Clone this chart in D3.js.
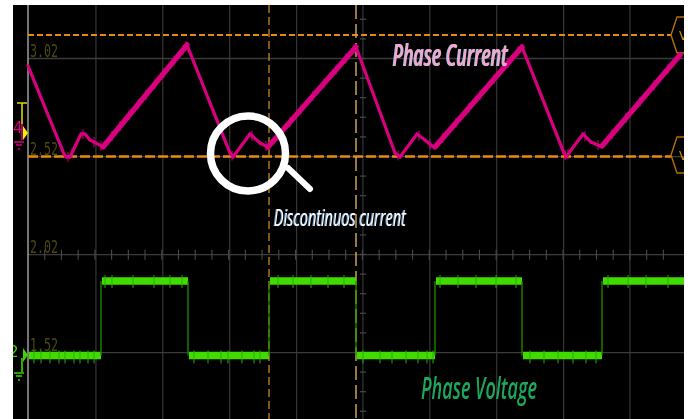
<!DOCTYPE html>
<html><head><meta charset="utf-8">
<script src="https://cdn.jsdelivr.net/npm/d3@7"></script>
<style>html,body{margin:0;padding:0;background:#fff;overflow:hidden}svg{display:block}</style>
</head><body><div id="c"></div>
<script>
// Sample index along the time axis, and readings in volts
const currentTime  = [0,36,38,42,53,57,62,68,75,159,202,205,222,232,240,328,367,372,389,397,404,407,494,536,538,555,563,572,574,652];
const currentValue = [2.982,2.533,2.518,2.518,2.635,2.635,2.604,2.589,2.569,3.089,2.538,2.518,2.635,2.589,2.569,3.079,2.538,2.518,2.635,2.604,2.574,2.569,3.079,2.538,2.518,2.635,2.594,2.574,2.574,3.038];
const currentSpikes = [40,44,55,66,73,84,92,101,110,118,127,136,146,155,158,160,204,224,238,250,262,273,285,296,308,318,326,370,391,402,415,428,441,452,466,480,490,537,540,557,570,584,598,612,626,640];
const voltageEdges = [0,73,160,241,328,407,494,574,656];
const voltageLow = 1.506, voltageHigh = 1.885;
const voltageLowSpikes  = [6,13,22,31,37,46,52,60,66,166,180,193,200,214,226,232,335,352,364,378,390,399,405,502,516,530,545,558,568];
const voltageHighSpikes = [77,84,105,126,142,154,250,265,283,300,316,412,430,448,468,488,580,600,618,640];
const cursorValues = [2.99,2.52];
const cursorTimes = [241];
const triggerTime = 328;
const gridTimes = [67.9,134.8,201.7,268.6,334.9,401.8,468.7,535.6,601.9];
const gridValues = [3.02,2.52,2.02,1.52];
const levelLabels = ["3.02","2.52","2.02","1.52"];

const W=688,H=419;
const x=d3.scaleLinear().domain([0,656]).range([28,684]);
const y=d3.scaleLinear().domain([3.02,1.52]).range([58.5,352.7]);
const currentAt=d3.scaleLinear().domain(currentTime).range(currentValue);
const svg=d3.select("#c").append("svg").attr("width",W).attr("height",H);
const defs=svg.append("defs");
defs.append("filter").attr("id","soft").append("feGaussianBlur").attr("stdDeviation",0.45);
defs.append("clipPath").attr("id","scope").append("rect").attr("x",13).attr("y",5).attr("width",671).attr("height",414);
svg.append("rect").attr("x",13).attr("y",5).attr("width",671).attr("height",414).attr("fill","#000");
const g=svg.append("g").attr("clip-path","url(#scope)").attr("filter","url(#soft)");

// graticule
g.selectAll(".gv").data(gridTimes).join("line").attr("x1",d=>x(d)).attr("x2",d=>x(d)).attr("y1",5).attr("y2",419).attr("stroke","#363636").attr("stroke-width",1.2);
g.selectAll(".gh").data(gridValues).join("line").attr("x1",x(0)).attr("x2",684).attr("y1",d=>y(d)).attr("y2",d=>y(d)).attr("stroke","#3a3a3a").attr("stroke-width",1.3);
// centre-axis ticks
const centre=x(335);
const vTicks=d3.range(-2,20).map(i=>y(3.02)+i*19.6);
g.selectAll(".vt").data(vTicks).join("line").attr("x1",centre-3).attr("x2",centre+3).attr("y1",d=>d).attr("y2",d=>d).attr("stroke","#484848").attr("stroke-width",1.2);
const hTicks=d3.range(1,39).map(i=>28+i*16.72);
g.selectAll(".ht").data(hTicks).join("line").attr("x1",d=>d).attr("x2",d=>d).attr("y1",y(2.02)-5).attr("y2",y(2.02)+5).attr("stroke","#4a4a4a").attr("stroke-width",1.1);
// left border
g.append("line").attr("x1",28).attr("x2",28).attr("y1",5).attr("y2",419).attr("stroke","#a8a8a8").attr("stroke-width",1.4);

// level labels
g.selectAll(".lab").data(levelLabels).join("text").attr("x",30).attr("y",d=>y(+d)-2)
 .attr("font-family","DejaVu Sans Mono").attr("font-size",18).attr("fill","#4c4a10").attr("textLength",28).attr("lengthAdjust","spacingAndGlyphs").text(d=>d);

// cursors
const cursorY=d=>y(d)-(d===cursorValues[0]?29.5+(y(cursorValues[0])-y(3.02)):0);
g.selectAll(".cv").data(cursorValues).join("line").attr("x1",28).attr("x2",671).attr("y1",(d,i)=>i?y(d):35).attr("y2",(d,i)=>i?y(d):35)
 .attr("stroke","#e88a0c").attr("stroke-width",(d,i)=>i?2.6:1.8).attr("stroke-dasharray",(d,i)=>i?"10 3":"6 3");
g.selectAll(".ct").data(cursorTimes).join("line").attr("x1",d=>x(d)).attr("x2",d=>x(d)).attr("y1",5).attr("y2",419).attr("stroke","#c9861a").attr("stroke-width",1.3).attr("stroke-dasharray","8 4");
g.append("line").attr("x1",x(triggerTime)).attr("x2",x(triggerTime)).attr("y1",5).attr("y2",419).attr("stroke","#c9a35a").attr("stroke-width",1.5).attr("stroke-dasharray","14 5");
// cursor end markers
const hex=d3.line();
[35,155].forEach(cy=>{
  g.append("path").attr("d",hex([[685,cy-18],[677,cy-18],[671,cy],[677,cy+18],[685,cy+18]])).attr("fill","none").attr("stroke","#b56e08").attr("stroke-width",1.4);
  g.append("text").attr("x",679).attr("y",cy+5).attr("font-family","DejaVu Sans").attr("font-size",12).attr("fill","#d98a10").text("V");
});

// voltage trace
const vg=g.append("g");
voltageEdges.slice(0,-1).forEach((t,i)=>{
  const lvl=i%2?voltageHigh:voltageLow, next=voltageEdges[i+1];
  vg.append("line").attr("x1",x(t)+1).attr("x2",x(next)).attr("y1",y(lvl)).attr("y2",y(lvl)).attr("stroke","#3fdc00").attr("stroke-width",7.5);
  if(i<voltageEdges.length-2) vg.append("line").attr("x1",x(next)).attr("x2",x(next)).attr("y1",y(voltageHigh)).attr("y2",y(voltageLow)).attr("stroke","#1f8f00").attr("stroke-width",1.3);
});
vg.selectAll(".ls").data(voltageLowSpikes).join("line").attr("x1",d=>x(d)).attr("x2",d=>x(d)).attr("y1",y(voltageLow)-5).attr("y2",y(voltageLow)+8).attr("stroke","#2fae00").attr("stroke-width",1);
vg.selectAll(".hs").data(voltageHighSpikes).join("line").attr("x1",d=>x(d)).attr("x2",d=>x(d)).attr("y1",y(voltageHigh)-6).attr("y2",y(voltageHigh)+7).attr("stroke","#2fae00").attr("stroke-width",1);

// current trace
const pts=currentTime.map((t,i)=>[t,currentValue[i]]);
const ctr=g.append("g");
ctr.selectAll("line").data(d3.pairs(pts)).join("line")
 .attr("x1",d=>x(d[0][0])).attr("y1",d=>y(d[0][1])).attr("x2",d=>x(d[1][0])).attr("y2",d=>y(d[1][1]))
 .attr("stroke","#d8007e").attr("stroke-linecap","round")
 .attr("stroke-width",d=>(d[1][1]>d[0][1]&&d[1][0]-d[0][0]>30)?5.4:3.2);
ctr.selectAll(".sp").data(currentSpikes).join("line")
 .attr("x1",d=>x(d)).attr("x2",d=>x(d)).attr("y1",d=>y(currentAt(d))-5).attr("y2",d=>y(currentAt(d))+5)
 .attr("stroke","#d8007e").attr("stroke-width",1);

// channel markers
g.append("path").attr("d","M22 103V124M17 103H27").attr("stroke","#d8d800").attr("stroke-width",1.6).attr("fill","none");
g.append("path").attr("d",hex([[23,126],[28,133],[23,140]])).attr("fill","#f0f000");
g.append("text").attr("x",13).attr("y",133).attr("font-family","DejaVu Sans").attr("font-size",15).attr("fill","#d8007e").text("4");
g.append("path").attr("d","M22 124V140M14 142H24M16 145H22M18 149H20").attr("stroke","#d8007e").attr("stroke-width",1.6).attr("fill","none");
g.append("path").attr("d",hex([[23,348],[28,355],[23,362]])).attr("fill","#37d600");
g.append("text").attr("x",9).attr("y",357).attr("font-family","DejaVu Sans").attr("font-size",15).attr("fill","#37d600").text("2");
g.append("path").attr("d","M22 358V372M14 373H24M16 376H22M18 380H20").attr("stroke","#37d600").attr("stroke-width",1.6).attr("fill","none");

// magnifier
const mag=svg.append("g").attr("filter","url(#soft)");
mag.append("line").attr("x1",288).attr("y1",168).attr("x2",310).attr("y2",189).attr("stroke","#fff").attr("stroke-width",6).attr("stroke-linecap","round");
mag.append("circle").attr("cx",248).attr("cy",153.5).attr("r",37.5).attr("fill","none").attr("stroke","#fff").attr("stroke-width",7.5);

// annotations
function label(t,xp,yp,size,len,fill,shadow,w){
  const s=svg.append("g").attr("filter","url(#soft)");
  const add=(xx,col)=>s.append("text").attr("x",xx).attr("y",yp).attr("font-family","Open Sans").attr("font-style","italic").attr("font-weight",w).attr("font-size",size).attr("textLength",len).attr("lengthAdjust","spacingAndGlyphs").attr("fill",col).text(t);
  if(shadow) add(xp-1,shadow);
  add(xp,fill);
}
label("Phase Current",393,66,30,115,"#f6a6cc","#9fc4e8",600);
label("Discontinuos current",274,226,24,132,"#ffffff","#6f9fd0",400);
label("Phase Voltage",421,399,30,116,"#1fa85a",null,600);
</script></body></html>
